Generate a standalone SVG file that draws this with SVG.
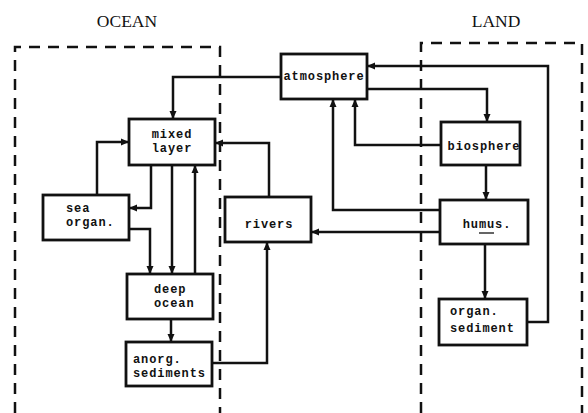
<svg xmlns="http://www.w3.org/2000/svg" width="588" height="413" viewBox="0 0 588 413">
<defs>
<marker id="ah" markerUnits="userSpaceOnUse" markerWidth="9" markerHeight="8" refX="8" refY="4" orient="auto">
<path d="M0,0.5 L8,4 L0,7.5 z" fill="#111"/>
</marker>
<style>
.box{fill:#fff;stroke:#111;stroke-width:2.8}
.t{font-family:"Liberation Mono","DejaVu Sans Mono",monospace;font-size:12px;letter-spacing:0.9px;font-weight:bold;fill:#111}
.h{font-family:"Liberation Serif","DejaVu Serif",serif;font-size:17.5px;fill:#111}
.c{fill:none;stroke:#111;stroke-width:2.5;marker-end:url(#ah)}
.dash{fill:none;stroke:#111;stroke-width:2.5;stroke-dasharray:11 8}
</style>
</defs>
<rect width="588" height="413" fill="#fff"/>
<g id="regions">
<path class="dash" d="M15,413 V47 H220 V413"/>
<path class="dash" d="M421,413 V43 H582 V413"/>
<text class="h" x="127" y="27" text-anchor="middle">OCEAN</text>
<text class="h" x="496" y="27" text-anchor="middle">LAND</text>
</g>
<g id="connectors">
<path class="c" d="M281,77 H173 V119"/>
<path class="c" d="M269,197 V143 H215"/>
<path class="c" d="M97,195 V142 H129"/>
<path class="c" d="M151,165 V208 H129"/>
<path class="c" d="M129,229 H150 V274"/>
<path class="c" d="M172,165 V274"/>
<path class="c" d="M195,274 V165"/>
<path class="c" d="M171,319 V342"/>
<path class="c" d="M212,363 H267 V242"/>
<path class="c" d="M440,232 H311"/>
<path class="c" d="M440,210 H333 V99"/>
<path class="c" d="M441,145 H355 V99"/>
<path class="c" d="M367,89 H487 V122"/>
<path class="c" d="M527,322 H548 V66 H367"/>
<path class="c" d="M486,165 V200"/>
<path class="c" d="M485,244 V299"/>
</g>
<g id="atmosphere">
<rect class="box" x="281" y="54" width="86" height="45"/>
<text class="t" x="324" y="80" text-anchor="middle">atmosphere</text>
</g>
<g id="mixed-layer">
<rect class="box" x="129" y="119" width="86" height="46"/>
<text class="t" x="172" y="138" text-anchor="middle">mixed</text>
<text class="t" x="172" y="152" text-anchor="middle">layer</text>
</g>
<g id="sea-organ">
<rect class="box" x="43" y="195" width="86" height="45"/>
<text class="t" x="66" y="212">sea</text>
<text class="t" x="66" y="226">organ.</text>
</g>
<g id="deep-ocean">
<rect class="box" x="127" y="274" width="86" height="45"/>
<text class="t" x="154" y="293">deep</text>
<text class="t" x="154" y="307">ocean</text>
</g>
<g id="anorg-sediments">
<rect class="box" x="126" y="342" width="86" height="44"/>
<text class="t" x="133" y="363">anorg.</text>
<text class="t" x="133" y="377">sediments</text>
</g>
<g id="rivers">
<rect class="box" x="225" y="197" width="86" height="45"/>
<text class="t" x="269" y="228" text-anchor="middle">rivers</text>
</g>
<g id="biosphere">
<rect class="box" x="441" y="122" width="79" height="43"/>
<text class="t" x="484" y="150" text-anchor="middle">biosphere</text>
</g>
<g id="humus">
<rect class="box" x="440" y="200" width="88" height="44"/>
<text class="t" x="487" y="228" text-anchor="middle">humus.</text>
<line x1="479" y1="233" x2="494" y2="233" stroke="#111" stroke-width="1.3"/>
</g>
<g id="organ-sediment">
<rect class="box" x="439" y="299" width="88" height="46"/>
<text class="t" x="450" y="315">organ.</text>
<text class="t" x="450" y="332">sediment</text>
</g>
</svg>
